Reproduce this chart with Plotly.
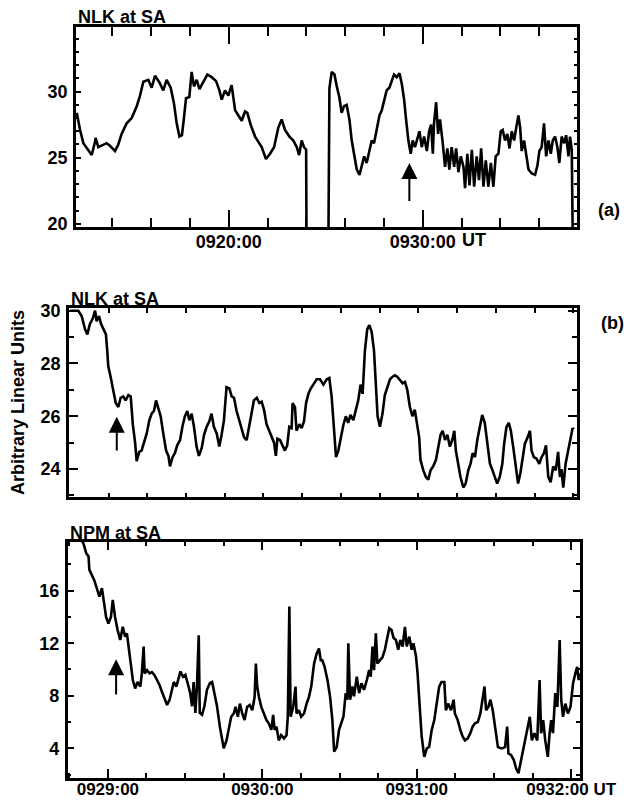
import plotly.graph_objects as go

# ---------------- data ----------------
# Panel (a): NLK at SA, time in minutes after 09:00 UT
a_t = [12.17, 12.34, 12.51, 12.77, 12.94, 13.11, 13.14, 13.28, 13.54, 13.71, 13.88, 14.14, 14.31, 14.48,
       14.74, 15.00, 15.26, 15.43, 15.60, 15.86, 16.03, 16.20, 16.43, 16.63, 16.80, 17.01, 17.18, 17.32,
       17.46, 17.59, 17.70, 17.80, 17.97, 18.09, 18.21, 18.35, 18.49, 18.69, 18.90, 19.12, 19.35, 19.52,
       19.64, 19.81, 19.98, 20.15, 20.33, 20.50, 20.67, 20.84, 20.96, 21.13, 21.36, 21.53, 21.70, 21.92,
       22.13, 22.34, 22.56, 22.73, 22.90, 23.13, 23.33, 23.51, 23.63, 23.76, 23.88, 23.99, 24.01,
       25.14, 25.19, 25.31, 25.45, 25.57, 25.70, 25.82, 25.94, 26.08, 26.22, 26.34, 26.46, 26.60, 26.74,
       26.86, 26.98, 27.11, 27.25, 27.37, 27.49, 27.63, 27.77, 27.89, 28.01, 28.14, 28.28, 28.40, 28.52,
       28.66, 28.80, 28.92, 29.04, 29.14, 29.26, 29.38, 29.48, 29.60, 29.73, 29.83, 29.95, 30.07, 30.21,
       30.33, 30.43, 30.52, 30.58, 30.69, 30.79, 30.89, 31.03, 31.15, 31.27, 31.37, 31.49, 31.62, 31.72,
       31.84, 31.96, 32.10, 32.18, 32.30, 32.41, 32.53, 32.65, 32.78, 32.90, 33.01, 33.13, 33.25, 33.38,
       33.51, 33.64, 33.76, 33.90, 34.02, 34.12, 34.24, 34.36, 34.47, 34.59, 34.71, 34.81, 34.93, 35.02,
       35.10, 35.22, 35.33, 35.45, 35.62, 35.79, 35.91, 36.01, 36.13, 36.25, 36.36, 36.48, 36.60, 36.70,
       36.82, 36.94, 37.04, 37.16, 37.29, 37.39, 37.51, 37.59, 37.68, 37.73]
a_v = [28.4, 27.1, 26.1, 25.6, 25.2, 26.2, 26.5, 25.8, 26.0, 26.1, 25.9, 25.5, 26.0, 26.8,
       27.6, 28.0, 28.9, 29.7, 30.75, 30.9, 30.3, 31.2, 30.7, 30.1, 30.9, 30.3, 29.1, 27.6,
       26.6, 26.7, 28.1, 29.5, 29.6, 31.5, 30.4, 30.9, 30.2, 30.8, 31.3, 31.1, 30.8, 30.1,
       29.4, 30.1, 29.7, 30.5, 28.6, 28.2, 27.8, 28.5, 28.4, 27.5, 26.6, 26.2, 25.8, 24.9,
       25.3, 25.8, 27.3, 27.9, 27.1, 26.6, 26.3, 25.8, 25.2, 26.3, 25.8, 25.6, 19.0,
       19.0, 30.25, 31.5, 31.3, 30.4, 29.6, 28.4, 28.9, 29.0, 27.9, 26.3, 25.3, 24.1, 23.7,
       24.3, 25.1, 24.6, 25.6, 26.3, 26.1, 27.2, 28.2, 28.6, 29.4, 30.1, 30.3, 30.9, 31.3,
       31.1, 31.4, 30.6, 29.4, 27.9, 26.3, 25.3, 26.3, 25.8, 26.5, 27.0, 25.8, 26.6, 25.5,
       27.0, 27.5, 25.3, 27.6, 29.2, 26.8, 27.9, 26.1, 24.3, 25.7, 24.1, 25.8, 24.3, 25.7,
       23.9, 25.1, 24.3, 22.7, 25.3, 22.9, 25.6, 22.8, 25.1, 23.3, 25.7, 22.8, 24.8, 22.8,
       24.6, 22.8, 25.1, 25.3, 27.0, 27.1, 26.3, 26.8, 25.7, 27.0, 26.3, 27.2, 28.2, 27.3,
       25.5, 26.3, 25.1, 24.1, 23.8, 23.7, 24.4, 25.5, 25.8, 27.6, 25.1, 26.3, 25.3, 26.3,
       26.6, 25.8, 24.6, 26.6, 26.1, 26.7, 25.1, 26.6, 25.6, 19.0]

# Panel (b): NLK at SA, time in seconds after 09:29:00 UT
b_t = [-14.9, -11.7, -10.4, -9.1, -8.2, -7.2, -6.1, -5.2, -4.6, -3.7, -2.9, -2.0, -1.0, -0.5, -0.1,
       0.8, 1.9, 2.8, 3.8, 4.7, 5.7, 6.6, 7.7, 8.6, 9.4, 10.3, 10.9, 11.9, 12.8, 13.7, 14.8, 15.8,
       16.7, 17.6, 18.4, 19.3, 20.2, 21.2, 22.3, 23.2, 23.8, 24.8, 25.7, 26.6, 27.7, 28.7, 29.6,
       30.5, 31.3, 32.2, 33.1, 34.1, 35.0, 36.1, 37.0, 38.0, 39.0, 39.9, 40.8, 41.9, 42.9, 43.8,
       44.7, 45.7, 46.8, 47.7, 48.6, 49.6, 50.6, 51.5, 52.5, 53.5, 54.5, 55.4, 56.3, 57.4, 58.4,
       59.3, 60.2, 61.2, 62.3, 63.2, 64.1, 64.8, 65.4, 66.4, 67.4, 68.3, 69.2, 70.0, 70.9, 71.3,
       72.2, 72.8, 73.9, 74.8, 75.7, 76.5, 77.4, 78.3, 79.3, 80.6, 81.9, 83.2, 84.5, 85.5, 86.4,
       87.3, 88.1, 89.0, 89.9, 90.9, 91.9, 92.8, 93.7, 94.8, 95.8, 96.7, 97.6, 98.4, 99.3, 100.2,
       101.0, 101.9, 102.8, 103.5, 104.2, 105.1, 106.1, 107.0, 107.9, 109.0, 110.0, 110.9, 111.8,
       112.8, 113.9, 114.8, 115.7, 116.7, 117.7, 118.6, 119.3, 120.3, 120.8, 121.9, 122.9, 123.8,
       124.7, 125.7, 126.8, 127.7, 128.6, 129.4, 130.3, 131.2, 132.2, 133.1, 133.9, 134.5, 135.4,
       136.3, 137.4, 138.3, 139.3, 140.2, 141.0, 141.9, 142.8, 143.8, 144.7, 145.7, 146.6, 147.7,
       148.7, 149.6, 150.5, 151.5, 152.5, 153.2, 154.1, 155.0, 155.8, 156.7, 157.6, 158.6, 159.5,
       160.3, 161.2, 162.3, 163.2, 163.8, 164.7, 165.7, 166.8, 167.7, 168.6, 169.4, 170.3, 171.2,
       172.2, 173.2, 174.1, 174.8, 175.4, 176.1, 177.0, 178.0, 178.9, 179.7, 180.2]
b_v = [30.0, 30.0, 29.8, 29.3, 29.1, 29.5, 29.7, 30.0, 29.6, 29.8, 29.5, 29.3, 29.1, 28.5, 27.9,
       27.5, 27.0, 26.5, 26.35, 26.7, 26.75, 26.6, 26.8, 26.75, 25.7, 25.0, 24.3, 24.65, 24.7, 25.0,
       25.35, 25.85, 26.1, 26.2, 26.6, 26.3, 26.0, 25.35, 24.7, 24.5, 24.1, 24.45, 24.6, 24.9,
       25.1, 25.65, 26.0, 26.2, 25.85, 26.1, 25.6, 24.85, 24.5, 24.8, 25.3, 25.6, 25.8, 26.1,
       25.6, 25.35, 24.85, 25.3, 25.85, 27.1, 27.05, 26.75, 26.7, 26.2, 25.85, 25.6, 25.2, 25.1,
       25.6, 26.1, 26.6, 26.7, 26.5, 26.55, 26.25, 25.7, 25.45, 25.2, 25.0, 24.5, 25.15, 25.1,
       24.9, 24.7, 24.9, 25.6, 25.55, 26.5, 26.35, 25.45, 25.7, 25.55, 25.8, 26.5, 26.85, 27.05,
       27.2, 27.4, 27.4, 27.2, 27.4, 27.45, 26.75, 25.45, 24.45, 24.7, 25.2, 25.65, 26.0, 25.75,
       26.05, 25.85, 26.25, 26.6, 27.2, 26.85, 28.5, 29.3, 29.45, 29.2, 28.5, 27.1, 26.0, 25.6,
       26.1, 26.8, 27.05, 27.4, 27.5, 27.55, 27.5, 27.4, 27.25, 27.3, 27.0, 26.35, 26.0, 26.25,
       25.75, 25.2, 24.35, 23.95, 23.7, 23.6, 23.95, 24.1, 24.35, 24.85, 25.3, 25.45, 25.1, 25.3,
       24.85, 25.1, 25.45, 24.7, 24.2, 23.7, 23.3, 23.45, 23.95, 24.2, 24.6, 24.45, 25.1, 25.6,
       26.05, 25.75, 25.1, 24.2, 23.95, 23.7, 23.45, 23.7, 24.2, 24.95, 25.6, 25.75, 25.45, 24.85,
       24.1, 23.45, 23.85, 24.45, 24.95, 25.2, 25.45, 24.7, 24.45, 24.4, 24.2, 24.45, 24.6, 24.9,
       23.7, 23.5, 24.1, 23.95, 24.65, 23.7, 24.0, 23.3, 24.2, 24.7, 25.2, 25.55, 25.5]

# Panel (c): NPM at SA, time in seconds after 09:29:00 UT
c_t = [-10.5, -9.5, -8.4, -7.5, -7.2, -6.2, -5.3, -4.3, -3.3, -2.3, -1.7, -0.7, 0.2, 1.2, 1.9, 2.8,
       3.8, 4.8, 5.8, 6.7, 7.4, 8.2, 8.9, 9.7, 10.6, 11.5, 12.6, 13.2, 13.9, 14.3, 15.2, 16.2, 17.1,
       18.0, 19.1, 20.1, 21.0, 21.9, 23.0, 24.0, 24.9, 25.6, 26.6, 27.5, 28.2, 29.2, 30.1, 31.0,
       32.0, 32.7, 33.3, 34.0, 34.6, 35.3, 35.7, 36.6, 37.5, 38.5, 39.6, 40.5, 41.4, 42.4, 43.5,
       44.4, 45.0, 46.1, 47.0, 47.9, 48.9, 49.6, 50.5, 51.3, 52.2, 53.1, 54.1, 55.1, 56.1, 57.0,
       57.5, 58.0, 58.7, 59.6, 60.6, 61.6, 62.5, 63.5, 64.2, 64.8, 65.5, 66.4, 67.3, 68.4, 69.4,
       69.9, 70.5, 71.0, 72.0, 72.9, 73.3, 74.2, 75.1, 76.2, 77.2, 78.1, 79.0, 80.1, 81.1, 82.0,
       82.7, 83.3, 84.2, 85.3, 86.3, 87.2, 87.9, 88.9, 89.8, 90.7, 91.5, 92.4, 93.0, 93.4, 94.1,
       95.0, 95.6, 96.7, 97.6, 98.5, 99.5, 100.6, 101.5, 102.1, 102.8, 103.4, 104.1, 104.7, 105.8,
       106.7, 107.6, 108.4, 109.3, 110.2, 111.0, 111.9, 112.8, 113.6, 114.5, 115.4, 116.1, 117.1,
       118.0, 118.7, 119.7, 120.3, 121.0, 121.9, 122.9, 123.9, 124.8, 125.8, 126.8, 127.8, 128.7,
       129.6, 130.7, 131.3, 132.2, 133.3, 134.3, 134.8, 135.9, 136.9, 137.8, 138.7, 139.8, 140.8,
       141.7, 142.6, 143.7, 144.7, 145.6, 146.3, 146.9, 147.8, 148.6, 149.5, 150.4, 151.5, 152.5,
       153.4, 154.3, 155.1, 155.6, 156.6, 157.7, 158.6, 159.5, 160.3, 161.2, 162.1, 163.1, 163.9,
       164.7, 165.7, 166.8, 167.7, 168.3, 169.1, 169.9, 170.9, 171.6, 172.2, 172.9, 173.8, 174.6,
       175.5, 176.1, 176.8, 177.7, 178.7, 179.7, 180.7, 181.6, 182.3, 182.9, 183.4]
c_v = [19.9, 19.6, 18.85, 18.6, 17.6, 17.2, 16.8, 16.2, 15.55, 16.2, 15.3, 14.0, 13.5, 14.0, 15.3, 14.0,
       13.0, 12.25, 13.25, 12.5, 12.75, 11.5, 10.45, 9.2, 8.55, 9.05, 8.7, 9.7, 11.75, 9.7, 9.95, 9.7, 9.8,
       9.6, 9.2, 8.8, 8.3, 7.8, 7.3, 7.7, 8.45, 9.05, 8.7, 9.45, 9.85, 9.45, 9.6, 8.95,
       8.2, 7.2, 9.05, 6.7, 8.7, 12.6, 6.7, 6.55, 7.2, 8.45, 8.95, 9.05, 8.2, 7.2, 5.65,
       4.6, 4.0, 4.6, 5.4, 6.4, 6.65, 7.15, 6.4, 7.4, 6.65, 6.15, 7.15, 7.3, 6.9, 7.9,
       10.45, 8.7, 7.9, 7.15, 6.65, 6.15, 5.9, 5.4, 6.55, 5.4, 5.65, 4.6, 5.0, 4.75, 5.0,
       6.4, 14.8, 6.4, 7.15, 8.7, 6.65, 6.9, 6.4, 6.65, 7.4, 7.9, 8.7, 10.45, 11.2, 11.6,
       10.7, 10.7, 10.2, 9.2, 7.95, 6.15, 3.75, 4.1, 5.4, 6.0, 6.4, 8.2, 7.7, 12.0, 7.7,
       8.7, 7.95, 9.45, 8.2, 8.95, 8.45, 9.2, 9.95, 9.45, 11.75, 9.95, 12.75, 10.45, 10.7,
       10.95, 11.5, 12.25, 13.15, 13.0, 12.4, 12.25, 11.5, 12.25, 11.75, 13.25, 11.75, 12.5,
       11.5, 12.0, 11.0, 9.7, 7.15, 4.9, 3.35, 4.0, 4.1, 5.4, 6.15, 7.7, 8.7,
       9.05, 9.05, 6.9, 7.4, 6.9, 7.7, 6.65, 6.15, 5.4, 4.9, 4.6, 4.75, 5.15,
       5.65, 5.9, 6.0, 6.65, 7.7, 8.7, 6.9, 7.15, 7.7, 6.9, 5.65, 4.1, 4.0,
       4.0, 4.1, 5.65, 3.6, 3.5, 3.1, 2.45, 2.1, 2.85, 3.85, 4.6, 5.4, 6.4,
       4.6, 5.15, 4.6, 9.2, 5.15, 6.15, 4.6, 3.35, 5.15, 6.15, 5.15, 8.2, 7.15,
       12.25, 7.7, 6.4, 7.4, 6.65, 7.15, 8.95, 9.7, 10.2, 9.2, 9.7]

# tick labels
a_tickvals = [20, 30]
a_ticktext = ["0920:00", "0930:00"]
bc_tickvals = [0, 60, 120, 180]
c_ticktext = ["0929:00", "0930:00", "0931:00", "0932:00 UT"]

# arrows: (x, tip value, tail value)
arrow_a = (29.31, 24.6, 21.6)
arrow_b = (3.2, 25.98, 24.65)
arrow_c = (3.2, 10.78, 7.98)

# ---------------- figure ----------------
W, H = 624, 801
FONT = "Liberation Sans"
FS = 18


def px_x(p):
    return p / W


def px_y(p):
    return 1 - p / H


fig = go.Figure()
line = dict(color="black", width=2.6)
fig.add_trace(go.Scatter(x=a_t, y=a_v, mode="lines", line=line, xaxis="x", yaxis="y"))
fig.add_trace(go.Scatter(x=b_t, y=b_v, mode="lines", line=line, xaxis="x2", yaxis="y2"))
fig.add_trace(go.Scatter(x=c_t, y=c_v, mode="lines", line=line, xaxis="x3", yaxis="y3"))

tickfont = dict(family=FONT, size=FS, color="black", weight="bold")


def xax(domain, rng, tickvals, ticktext, anchor, major_len, minor_dtick, minor_len,
        show_labels=True, standoff=-2, fsize=FS):
    return dict(domain=domain, range=rng, anchor=anchor, showgrid=False, zeroline=False,
                showline=True, linecolor="black", linewidth=2.5, mirror="allticks",
                ticks="inside", tickcolor="black", tickwidth=2, ticklen=major_len,
                tickmode="array", tickvals=tickvals, ticktext=ticktext, automargin=False,
                showticklabels=show_labels, ticklabelstandoff=standoff,
                tickfont=dict(family=FONT, size=fsize, color="black", weight="bold"),
                minor=dict(ticks="inside", dtick=minor_dtick, tick0=0, ticklen=minor_len,
                           tickwidth=2, tickcolor="black", showgrid=False))


def yax(domain, rng, tickvals, anchor, major_len, minor_dtick, minor_len):
    return dict(domain=domain, range=rng, anchor=anchor, showgrid=False, zeroline=False,
                showline=True, linecolor="black", linewidth=2.5, mirror="allticks",
                ticks="inside", tickcolor="black", tickwidth=2, ticklen=major_len,
                tickmode="array", tickvals=tickvals, ticktext=[str(v) for v in tickvals],
                tickfont=tickfont, ticklabelstandoff=2, automargin=False,
                minor=dict(ticks="inside", dtick=minor_dtick, tick0=0, ticklen=minor_len,
                           tickwidth=2, tickcolor="black", showgrid=False))


fig.update_layout(
    width=W, height=H, autosize=False, margin=dict(l=0, r=0, t=0, b=0, pad=0),
    paper_bgcolor="white", plot_bgcolor="white", showlegend=False,
    xaxis=xax([px_x(76), px_x(577)], [12.13, 37.95], a_tickvals, a_ticktext, "y", 17, 2, 9,
              standoff=-3),
    yaxis=yax([px_y(227), px_y(27)], [19.75, 34.9], [20, 25, 30], "x", 5, 1, 3),
    xaxis2=xax([px_x(69), px_x(576.7)], [-15.3, 181.3], bc_tickvals, ["", "", "", ""], "y2", 9, 15, 5,
               show_labels=False),
    yaxis2=yax([px_y(497.3), px_y(308.3)], [22.93, 30.09], [24, 26, 28, 30], "x2", 9, 1, 5),
    xaxis3=xax([px_x(67.7), px_x(580)], [-15.6, 183.4], bc_tickvals, c_ticktext, "y3", 9, 15, 5,
               standoff=-6, fsize=17),
    yaxis3=yax([px_y(777.7), px_y(541.7)], [1.76, 19.73], [4, 8, 12, 16], "x3", 7, 2, 4),
)

txt = dict(family=FONT, size=FS, color="black", weight="bold")
ann = []
# panel titles
for label, xp, yp in [("NLK at SA", 76, 17), ("NLK at SA", 69, 299), ("NPM at SA", 68, 533)]:
    ann.append(dict(text=label, xref="paper", yref="paper", x=px_x(xp), y=px_y(yp),
                    xanchor="left", yanchor="middle", showarrow=False, font=txt))
# panel letters
ann.append(dict(text="(a)", xref="paper", yref="paper", x=px_x(609), y=px_y(210),
                xanchor="center", yanchor="middle", showarrow=False, font=txt))
ann.append(dict(text="(b)", xref="paper", yref="paper", x=px_x(612), y=px_y(323),
                xanchor="center", yanchor="middle", showarrow=False, font=txt))
# y-axis title
ann.append(dict(text="Arbitrary Linear Units", xref="paper", yref="paper", x=px_x(18), y=px_y(403),
                xanchor="center", yanchor="middle", textangle=-90, showarrow=False, font=txt))
# "UT" after 0930:00 on panel (a)
ann.append(dict(text="UT", xref="x", yref="paper", x=30, y=px_y(240.5), xshift=37,
                xanchor="left", yanchor="middle", showarrow=False, font=txt))
# arrows
for (xa, tip, tail), xr, yr in [(arrow_a, "x", "y"), (arrow_b, "x2", "y2"), (arrow_c, "x3", "y3")]:
    ann.append(dict(text="", x=xa, y=tip, ax=xa, ay=tail, xref=xr, yref=yr, axref=xr, ayref=yr,
                    showarrow=True, arrowhead=2, arrowsize=1.6, arrowwidth=2, arrowcolor="black",
                    standoff=0))
fig.update_layout(annotations=ann)

fig.write_html(
    "out.html",
    config={"responsive": False},
    post_script="document.body.style.margin='0';document.body.style.overflow='hidden';",
)
